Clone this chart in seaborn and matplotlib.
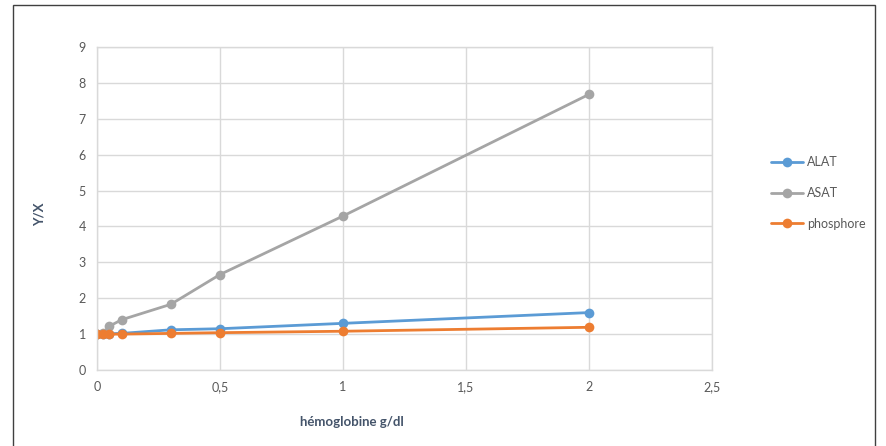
import matplotlib
matplotlib.use("Agg")
import matplotlib.pyplot as plt
from matplotlib.patches import Rectangle
import seaborn as sns
import pandas as pd

# Hemoglobin concentration (g/dl) and ratio Y/X for each analyte
hemoglobine = [0, 0.025, 0.05, 0.1, 0.3, 0.5, 1, 2]
alat = [1.00, 1.00, 1.01, 1.02, 1.12, 1.15, 1.30, 1.60]
asat = [1.00, 1.02, 1.22, 1.40, 1.83, 2.66, 4.29, 7.68]
phosphore = [1.00, 1.00, 1.00, 1.00, 1.02, 1.04, 1.08, 1.19]

series = ["ALAT", "ASAT", "phosphore"]
palette = {"ALAT": "#5B9BD5", "ASAT": "#A5A5A5", "phosphore": "#ED7D31"}
x_ticks = [0, 0.5, 1, 1.5, 2, 2.5]
x_ticklabels = ["0", "0,5", "1", "1,5", "2", "2,5"]
y_ticks = list(range(0, 10))

df = pd.DataFrame({
    "x": hemoglobine * 3,
    "y": alat + asat + phosphore,
    "serie": [s for s in series for _ in hemoglobine],
})

sns.set_style("white")
plt.rcParams["font.family"] = ["Lato", "DejaVu Sans"]

fig = plt.figure(figsize=(8.87, 4.46), dpi=100)
ax = fig.add_axes([97 / 887, 76 / 446, 615 / 887, 323 / 446])

sns.lineplot(data=df, x="x", y="y", hue="serie", hue_order=series,
             palette=palette, marker="o", markersize=7, markeredgewidth=0,
             linewidth=2, ax=ax, legend=True)

ax.set_xlim(0, 2.5)
ax.set_ylim(0, 9)
ax.set_xticks(x_ticks)
ax.set_xticklabels(x_ticklabels)
ax.set_yticks(y_ticks)
ax.grid(True, color="#D9D9D9", linewidth=1)
ax.set_axisbelow(True)
for sp in ax.spines.values():
    sp.set_color("#D9D9D9")
    sp.set_linewidth(1)
ax.tick_params(axis="both", length=0, labelsize=9, colors="#595959", pad=8)

ax.set_xlabel("hémoglobine g/dl", fontsize=9.5, fontweight="bold",
              color="#44546A")
ax.xaxis.set_label_coords(0.415, -0.142)
ax.set_ylabel("Y/X", fontsize=9.5, fontweight="bold", color="#44546A")
ax.yaxis.set_label_coords(-0.083, 0.483)

leg = ax.legend(loc="center left", bbox_to_anchor=(766 / 887, 0.567),
                bbox_transform=fig.transFigure, frameon=False, fontsize=9,
                handlelength=2.6, labelspacing=1.5, handletextpad=0.3,
                borderaxespad=0)
for t in leg.get_texts():
    t.set_color("#595959")

# Chart border
fig.patches.append(Rectangle((13 / 887, -0.01), 862 / 887, 1 - 5 / 446 + 0.01,
                             transform=fig.transFigure, fill=False,
                             edgecolor="#404040", linewidth=1))

fig.savefig("out.png", dpi=100)
